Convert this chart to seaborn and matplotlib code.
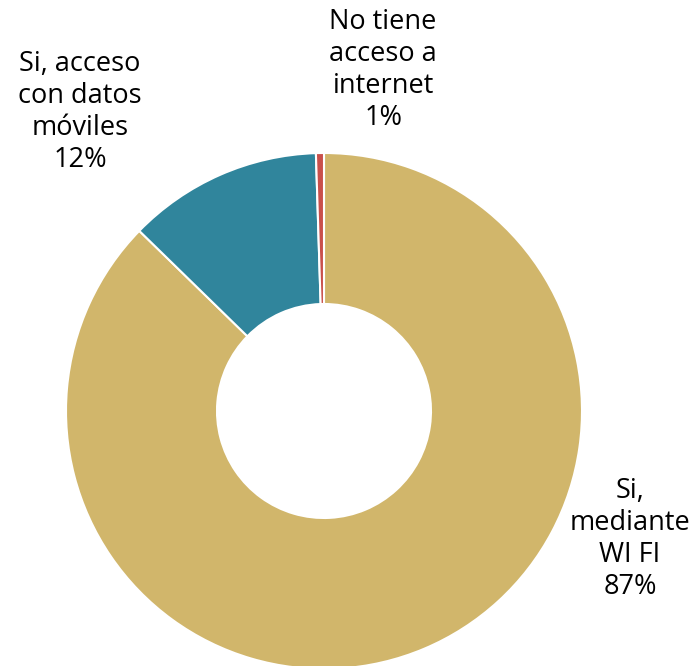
import matplotlib
matplotlib.use("Agg")
import matplotlib.pyplot as plt
import seaborn as sns

sns.set_theme(style="white")
plt.rcParams['font.family'] = ['Open Sans', 'DejaVu Sans']

categories = ["Si,\nmediante\nWI FI", "Si, acceso\ncon datos\nmóviles", "No tiene\nacceso a\ninternet"]
values = [87.3, 12.2, 0.5]
pct_labels = ["87%", "12%", "1%"]
colors = ["#D1B66B", "#30859C", "#C9504B"]

fig = plt.figure(figsize=(7.0, 6.66), dpi=100)
R = 258
cx, cy = 324, 411
ax = fig.add_axes([(cx - R) / 700, (666 - cy - R) / 666, 2 * R / 700, 2 * R / 666])
ax.pie(values, colors=colors, startangle=90, counterclock=False,
       wedgeprops=dict(width=1 - 107 / 258, edgecolor="white", linewidth=1.5))
ax.set_xlim(-1, 1)
ax.set_ylim(-1, 1)
ax.set_axis_off()

label_pos = [(1.186, -0.496), (-0.946, 1.159), (0.229, 1.322)]
for cat, pct, (x, y) in zip(categories, pct_labels, label_pos):
    ax.text(x, y, f"{cat}\n{pct}", ha="center", va="center", fontsize=19.5,
            color="black", linespacing=1.18, clip_on=False)

fig.savefig("out.png", dpi=100)
